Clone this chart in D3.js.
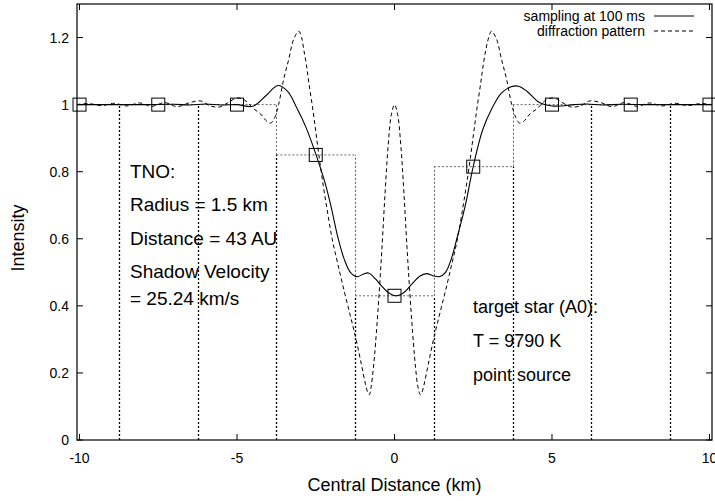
<!DOCTYPE html>
<html><head><meta charset="utf-8">
<script src="https://cdn.jsdelivr.net/npm/d3@7"></script>
<style>body{margin:0;background:#fff} text{font-family:"Liberation Sans",Arial,Helvetica,sans-serif;fill:#000}</style>
</head><body><svg id="c" width="715" height="501"></svg>
<script>
// ---- data ----
const diffX = [-10.1,-9.7,-9.3,-8.9,-8.5,-8.1,-7.7,-7.3,-6.9,-6.5,-6.15,-5.85,-5.55,-5.3,-5.0,-4.75,-4.5,-4.25,-4.05,-3.93,-3.8,-3.68,-3.52,-3.36,-3.2,-3.04,-2.95,-2.88,-2.8,-2.72,-2.6,-2.5,-2.41,-2.28,-2.14,-1.98,-1.8,-1.6,-1.4,-1.22,-1.05,-0.93,-0.85,-0.8,-0.74,-0.67,-0.6,-0.5,-0.4,-0.3,-0.2,-0.1,0,
  0.1,0.2,0.3,0.4,0.5,0.6,0.67,0.74,0.82,0.87,0.95,1.07,1.24,1.42,1.62,1.82,2.0,2.16,2.3,2.43,2.52,2.62,2.74,2.82,2.9,2.99,3.08,3.24,3.4,3.56,3.72,3.85,3.97,4.1,4.3,4.55,4.8,5.05,5.35,5.6,5.9,6.2,6.55,6.9,7.3,7.7,8.1,8.5,8.9,9.3,9.7,10.1];
const diffY = [1.0,1.003,0.997,1.004,0.996,1.005,0.995,1.006,0.994,1.006,1.011,0.996,0.993,1.005,1.02,1.013,0.99,0.972,0.95,0.945,0.962,1.0,1.075,1.134,1.195,1.219,1.2,1.164,1.12,1.066,0.99,0.92,0.856,0.77,0.687,0.6,0.525,0.445,0.37,0.3,0.225,0.17,0.142,0.135,0.16,0.215,0.29,0.42,0.57,0.735,0.88,0.97,1.0,
  0.97,0.88,0.735,0.57,0.42,0.29,0.215,0.16,0.135,0.142,0.17,0.225,0.3,0.37,0.445,0.525,0.6,0.687,0.77,0.856,0.92,0.99,1.066,1.12,1.164,1.2,1.219,1.195,1.134,1.075,1.0,0.962,0.945,0.95,0.972,0.99,1.013,1.02,1.005,0.993,0.996,1.011,1.006,0.994,1.006,0.995,1.005,0.996,1.004,0.997,1.003,1.0];

const sampX = [-10.1,-9,-8,-7,-6.5,-6,-5.5,-5,-4.5,-4.1,-3.7,-3.4,-3.1,-2.8,-2.5,-2.2,-2.0,-1.8,-1.6,-1.4,-1.19,-1.0,-0.83,-0.6,-0.4,-0.2,0.05,0.3,0.55,0.8,1.02,1.22,1.42,1.62,1.82,2.02,2.25,2.5,2.8,3.1,3.4,3.7,3.94,4.2,4.6,5.0,5.3,5.7,6.1,6.6,7.2,8,9,10.1];
const sampY = [1.0,1.0,1.0,1.001,0.999,1.002,0.999,1.0,0.995,1.025,1.057,1.04,0.99,0.93,0.853,0.765,0.69,0.605,0.54,0.5,0.487,0.494,0.498,0.48,0.458,0.44,0.43,0.44,0.465,0.488,0.496,0.49,0.487,0.5,0.545,0.615,0.7,0.816,0.925,0.99,1.035,1.053,1.055,1.04,1.006,0.996,0.996,1.0,1.002,0.999,1.001,1.0,1.0,1.0];

const pointX = [-10,-7.5,-5,-2.5,0,2.5,5,7.5,10];
const pointY = [1,1,1,0.85,0.43,0.815,1,1,1];
const binEdges = [-11.25,-8.75,-6.25,-3.75,-1.25,1.25,3.75,6.25,8.75,11.25];
const binValues = [1,1,1,0.85,0.43,0.815,1,1,1];

const xTicks = [-10,-5,0,5,10];
const xTickLabels = ["-10","-5","0","5","10"];
const yTicks = [0,0.2,0.4,0.6,0.8,1,1.2];
const yTickLabels = ["0","0.2","0.4","0.6","0.8","1","1.2"];
const legendLabels = ["sampling at 100 ms","diffraction pattern"];
const tnoText = ["TNO:","Radius = 1.5 km","Distance = 43 AU","Shadow Velocity","= 25.24 km/s"];
const starText = ["target star (A0):","T = 9790 K","point source"];
const xLabel = "Central Distance (km)";
const yLabel = "Intensity";

// ---- layout ----
const L = 77, R = 712, T = 4, B = 440;
const x = d3.scaleLinear().domain([-10.08, 10.08]).range([L, R]);
const y = d3.scaleLinear().domain([0, 1.3]).range([B, T]);
const svg = d3.select("#c");

svg.append("clipPath").attr("id","clip").append("rect")
  .attr("x",L).attr("y",T).attr("width",R-L).attr("height",B-T);
const g = svg.append("g").attr("clip-path","url(#clip)");

// bins (steps)
const dotGrey = "#666";
binValues.forEach((v,i)=>{
  g.append("line").attr("x1",x(binEdges[i])).attr("x2",x(binEdges[i+1]))
   .attr("y1",y(v)).attr("y2",y(v))
   .attr("stroke",dotGrey).attr("stroke-width",1).attr("stroke-dasharray","2,2");
});
for(let i=1;i<binEdges.length-1;i++){
  const a = binValues[i-1], b = binValues[i];
  const lo = Math.min(a,b), hi = Math.max(a,b);
  const xe = Math.round(x(binEdges[i]))+0.5;
  g.append("line").attr("x1",xe).attr("x2",xe).attr("y1",y(0)).attr("y2",y(lo))
   .attr("stroke","#000").attr("stroke-width",1.3).attr("stroke-dasharray","2,2");
  if(hi>lo) g.append("line").attr("x1",xe).attr("x2",xe).attr("y1",y(lo)).attr("y2",y(hi))
   .attr("stroke",dotGrey).attr("stroke-width",1).attr("stroke-dasharray","2,2");
}

// curves
const line = d3.line().curve(d3.curveCatmullRom.alpha(0.5));
g.append("path").attr("d", line(diffX.map((d,i)=>[x(d),y(diffY[i])])))
  .attr("fill","none").attr("stroke","#000").attr("stroke-width",1).attr("stroke-dasharray","4,3");
g.append("path").attr("d", line(sampX.map((d,i)=>[x(d),y(sampY[i])])))
  .attr("fill","none").attr("stroke","#000").attr("stroke-width",1.1);

// squares
svg.selectAll("rect.pt").data(pointX).enter().append("rect").attr("class","pt")
  .attr("x",(d)=>x(d)-6.5).attr("y",(d,i)=>y(pointY[i])-6.5)
  .attr("width",13).attr("height",13)
  .attr("fill","none").attr("stroke","#000").attr("stroke-width",1);

// frame
svg.append("rect").attr("x",L).attr("y",T).attr("width",R-L).attr("height",B-T)
  .attr("fill","none").attr("stroke","#000").attr("stroke-width",1.2);

// ticks
xTicks.forEach((t,i)=>{
  const xx = x(t);
  svg.append("line").attr("x1",xx).attr("x2",xx).attr("y1",B).attr("y2",B-6).attr("stroke","#000");
  svg.append("line").attr("x1",xx).attr("x2",xx).attr("y1",T).attr("y2",T+6).attr("stroke","#000");
  svg.append("text").attr("x",xx).attr("y",463).attr("text-anchor","middle").attr("font-size",14).text(xTickLabels[i]);
});
yTicks.forEach((t,i)=>{
  const yy = y(t);
  svg.append("line").attr("x1",L).attr("x2",L+6).attr("y1",yy).attr("y2",yy).attr("stroke","#000");
  svg.append("line").attr("x1",R).attr("x2",R-6).attr("y1",yy).attr("y2",yy).attr("stroke","#000");
  svg.append("text").attr("x",69).attr("y",yy+5).attr("text-anchor","end").attr("font-size",14).text(yTickLabels[i]);
});

// axis labels
svg.append("text").attr("x",(L+R)/2).attr("y",491).attr("text-anchor","middle").attr("font-size",18).text(xLabel);
svg.append("text").attr("transform","translate(24,238) rotate(-90)").attr("text-anchor","middle").attr("font-size",18).text(yLabel);

// legend
const legY = [21, 36];
legendLabels.forEach((s,i)=>{
  svg.append("text").attr("x",645).attr("y",legY[i]).attr("text-anchor","end").attr("font-size",14).text(s);
  svg.append("line").attr("x1",654).attr("x2",694).attr("y1",legY[i]-5).attr("y2",legY[i]-5)
    .attr("stroke","#000").attr("stroke-width",1).attr("stroke-dasharray", i===0?null:"4,3");
});

// annotations
const tnoY = [178,211,245,278,305];
tnoText.forEach((s,i)=>svg.append("text").attr("x",130).attr("y",tnoY[i]).attr("font-size",19).text(s));
const starY = [313,347,381];
starText.forEach((s,i)=>svg.append("text").attr("x",473).attr("y",starY[i]).attr("font-size",18).text(s));
</script></body></html>
